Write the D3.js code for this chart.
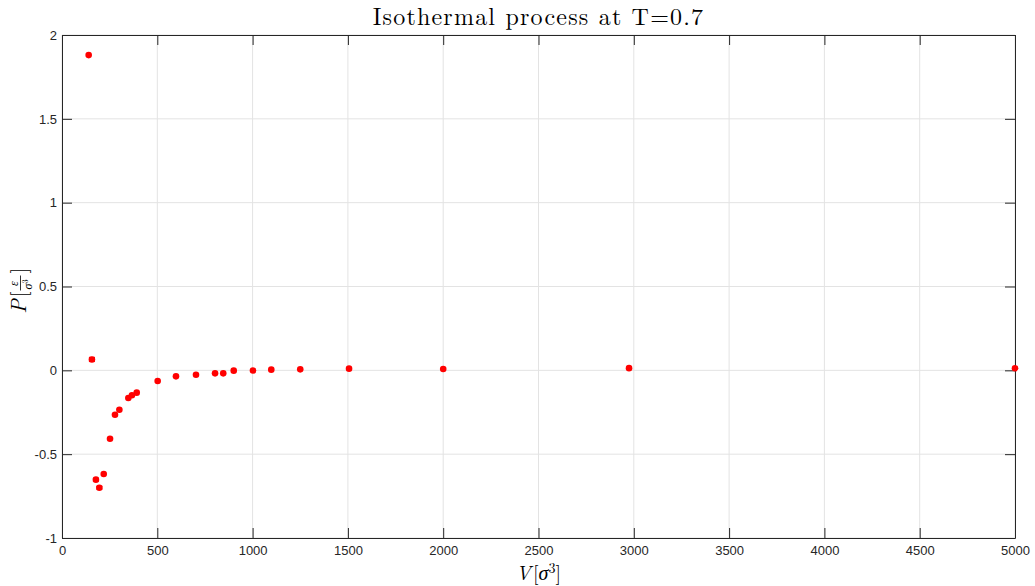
<!DOCTYPE html>
<html>
<head>
<meta charset="utf-8">
<script src="https://cdn.jsdelivr.net/npm/d3@7"></script>
<style>
  body { margin: 0; background: #fff; }
  svg { display: block; }
</style>
</head>
<body>
<svg id="chart" width="1035" height="586"></svg>
<script>
// data
var volumes = [140, 157, 178, 196, 219, 252, 278, 301, 348, 367, 392, 502, 598, 703, 803, 846, 901, 1002, 1098, 1250, 1506, 2000, 2975, 5000];
var pressures = [1.880, 0.065, -0.652, -0.700, -0.618, -0.408, -0.265, -0.235, -0.165, -0.149, -0.133, -0.064, -0.036, -0.026, -0.018, -0.018, -0.002, -0.001, 0.004, 0.006, 0.010, 0.008, 0.013, 0.012];
var errors = [0, 0.012, 0.008, 0.008, 0, 0, 0, 0, 0, 0, 0, 0, 0, 0, 0, 0, 0, 0, 0, 0, 0, 0, 0, 0];
var xTicks = [0, 500, 1000, 1500, 2000, 2500, 3000, 3500, 4000, 4500, 5000];
var yTicks = [-1, -0.5, 0, 0.5, 1, 1.5, 2];

var svg = d3.select("#chart");
var plotL = 62, plotR = 1015, plotT = 35, plotB = 538;
var axisColor = "#262626";

var x = d3.scaleLinear().domain([0, 5000]).range([plotL, plotR]);
var y = d3.scaleLinear().domain([-1, 2]).range([plotB, plotT]);

// grid
var grid = svg.append("g");
grid.selectAll("line.gx").data(xTicks).enter().append("line")
  .attr("x1", function (d) { return x(d); }).attr("x2", function (d) { return x(d); })
  .attr("y1", plotT).attr("y2", plotB)
  .attr("stroke", "#e3e3e3").attr("stroke-width", 1);
grid.selectAll("line.gy").data(yTicks).enter().append("line")
  .attr("y1", function (d) { return y(d); }).attr("y2", function (d) { return y(d); })
  .attr("x1", plotL).attr("x2", plotR)
  .attr("stroke", "#e3e3e3").attr("stroke-width", 1);

// axes with inward ticks
var fmt = function (d) { return String(d); };
var xAxis = svg.append("g").attr("transform", "translate(0," + plotB + ")")
  .call(d3.axisBottom(x).tickValues(xTicks).tickFormat(fmt).tickSizeInner(-10).tickSizeOuter(0).tickPadding(8));
var xTop = svg.append("g").attr("transform", "translate(0," + plotT + ")")
  .call(d3.axisTop(x).tickValues(xTicks).tickFormat("").tickSizeInner(-10).tickSizeOuter(0));
var yAxis = svg.append("g").attr("transform", "translate(" + plotL + ",0)")
  .call(d3.axisLeft(y).tickValues(yTicks).tickFormat(fmt).tickSizeInner(-10).tickSizeOuter(0).tickPadding(5));
var yRight = svg.append("g").attr("transform", "translate(" + plotR + ",0)")
  .call(d3.axisRight(y).tickValues(yTicks).tickFormat("").tickSizeInner(-10).tickSizeOuter(0));

[xAxis, xTop, yAxis, yRight].forEach(function (g) {
  g.select(".domain").attr("stroke", axisColor).attr("stroke-width", 1);
  g.selectAll(".tick line").attr("stroke", axisColor);
  g.selectAll(".tick text").attr("fill", axisColor)
    .style("font-family", "'Liberation Sans', Arial, sans-serif").style("font-size", "13px");
});

// error bars
var pts = volumes.map(function (v, i) { return { v: v, p: pressures[i], e: errors[i] }; });
var eb = svg.append("g").attr("stroke", "#ff0000").attr("stroke-width", 1.2);
pts.filter(function (d) { return d.e > 0; }).forEach(function (d) {
  var cx = x(d.v);
  eb.append("line").attr("x1", cx).attr("x2", cx).attr("y1", y(d.p - d.e)).attr("y2", y(d.p + d.e));
  eb.append("line").attr("x1", cx - 3).attr("x2", cx + 3).attr("y1", y(d.p - d.e)).attr("y2", y(d.p - d.e));
  eb.append("line").attr("x1", cx - 3).attr("x2", cx + 3).attr("y1", y(d.p + d.e)).attr("y2", y(d.p + d.e));
});

// markers
svg.append("g").selectAll("circle").data(pts).enter().append("circle")
  .attr("cx", function (d) { return x(d.v); })
  .attr("cy", function (d) { return y(d.p); })
  .attr("r", 3.3)
  .attr("fill", "#ff0000");

// title
var serif = "'Latin Modern Roman', 'Liberation Serif', 'DejaVu Serif', serif";
svg.append("text").attr("x", (plotL + plotR) / 2).attr("y", 25)
  .attr("text-anchor", "middle").style("font-family", serif).style("font-size", "24px")
  .style("letter-spacing", "1.2px")
  .attr("fill", "#000").text("Isothermal process at T=0.7");

// x label
var xl = svg.append("text").attr("x", (plotL + plotR) / 2).attr("y", 580)
  .attr("text-anchor", "middle").style("font-family", serif).style("font-size", "20px").attr("fill", "#000");
xl.append("tspan").style("font-style", "italic").text("V");
xl.append("tspan").attr("dx", 2).text("[");
xl.append("tspan").style("font-style", "italic").text("σ");
xl.append("tspan").attr("dy", -7).style("font-size", "14px").text("3");
xl.append("tspan").attr("dy", 7).text("]");

// y label (rotated, with fraction)
var yl = svg.append("g").attr("transform", "translate(26," + ((plotT + plotB) / 2) + ") rotate(-90)")
  .style("font-family", serif).attr("fill", "#000");
yl.append("text").attr("x", -27).attr("y", 0).style("font-size", "21px")
  .html("<tspan font-style='italic'>P</tspan><tspan dx='2'>[</tspan>");
yl.append("text").attr("x", 3).attr("y", -8).attr("text-anchor", "middle")
  .style("font-size", "12px").style("font-style", "italic").text("ε");
yl.append("line").attr("x1", -4).attr("x2", 11).attr("y1", -5.5).attr("y2", -5.5)
  .attr("stroke", "#000").attr("stroke-width", 0.8);
yl.append("text").attr("x", 2).attr("y", 6).attr("text-anchor", "middle")
  .style("font-size", "12px").html("<tspan font-style='italic'>σ</tspan><tspan dy='-4' font-size='8px'>3</tspan>");
yl.append("text").attr("x", 13).attr("y", 0).style("font-size", "21px").text("]");
</script>
</body>
</html>
